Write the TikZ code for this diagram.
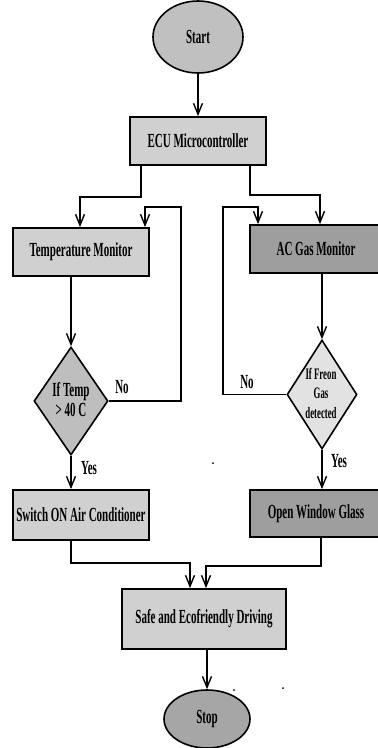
\documentclass[tikz,border=0pt]{standalone}
\usepackage{fontspec}
\setmainfont{Liberation Serif}[FakeStretch=0.55]
\usetikzlibrary{shapes.geometric,arrows.meta}
\definecolor{boxlight}{HTML}{D0D0D0}
\definecolor{boxdark}{HTML}{9E9E9E}
\definecolor{startfill}{HTML}{C0C0C0}
\definecolor{stopfill}{HTML}{A6A6A6}
\definecolor{diadark}{HTML}{BEBEBE}
\definecolor{dialight}{HTML}{E2E2E2}
\newcommand\fmain{\fontsize{20}{20}\selectfont\bfseries}
\newcommand\fsmall{\fontsize{16}{19.5}\selectfont\bfseries}
\begin{document}
\begin{tikzpicture}[x=1pt,y=-1pt,
  box/.style={draw, line width=1.8pt, fill=boxlight, minimum width=136pt, minimum height=48pt, inner sep=0pt, font=\fmain},
  term/.style={draw, ellipse, line width=1.6pt, inner sep=0pt, font=\fmain},
  dia/.style={draw, diamond, line width=1.6pt, inner sep=0pt},
  conn/.style={line width=1.4pt, -{Straight Barb[length=11pt,width=9pt]}},
  lbl/.style={font=\fmain, inner sep=0pt},
  txt/.style={font=\fmain, align=center, inner sep=0pt}]
\useasboundingbox (0,0) rectangle (378,748);
% nodes
\node[term, fill=startfill, minimum width=90pt, minimum height=72pt] (start) at (198,37) {Start};
\node[box] (ecu) at (198,141) {ECU Microcontroller};
\node[box] (temp) at (81,252) {Temperature Monitor};
\node[box, fill=boxdark, minimum width=132pt] (ac) at (316,249) {AC Gas Monitor};
\node[dia, fill=diadark, minimum width=74pt, minimum height=108pt] (d1) at (71,401) {};
\node[txt] (d1t) at (71,400) {If Temp\\> 40 C};
\node[dia, fill=dialight, minimum width=70pt, minimum height=109pt] (d2) at (322,394.5) {};
\node[txt, font=\fsmall] (d2t) at (321,393) {If Freon\\Gas\\detected};
\node[box, minimum height=50pt] (sw) at (81,515) {Switch ON Air Conditioner};
\node[box, fill=boxdark, minimum width=132pt, minimum height=47pt] (ow) at (316,513.5) {Open Window Glass};
\node[box, minimum width=164pt, minimum height=60pt] (safe) at (204,619) {Safe and Ecofriendly Driving};
\node[term, fill=stopfill, minimum width=86pt, minimum height=58pt] (stop) at (207,719) {Stop};
% labels
\node[lbl] (no1) at (122,387) {No};
\node[lbl] (yes1) at (89,468) {Yes};
\node[lbl] (no2) at (247,382) {No};
\node[lbl] (yes2) at (339,461) {Yes};
% helper coordinates
\coordinate (e1) at (141,197);
\coordinate (e2) at (80,197);
\coordinate (e3) at (250,195);
\coordinate (e4) at (320,195);
\coordinate (n1) at (181,207);
\coordinate (n2) at (145,207);
\coordinate (n3) at (223,207);
\coordinate (n4) at (258,207);
\coordinate (m1) at (71,563);
\coordinate (m2) at (190,563);
\coordinate (m3) at (321,566);
\coordinate (m4) at (206,566);
% connectors
\draw[conn] (start) -- (ecu);
\draw[conn] (ecu.south -| e1) -- (e1) -- (e2) -- (temp.north -| e2);
\draw[conn] (ecu.south -| e3) -- (e3) -- (e4) -- (ac.north -| e4);
\draw[conn] (temp.south -| d1.north) -- (d1.north);
\draw[conn] (ac.south -| d2.north) -- (d2.north);
\draw[conn] (d1.east) -| (n1) -- (n2) -- (temp.north -| n2);
\draw[conn] (d2.west) -| (n3) -- (n4) -- (ac.north -| n4);
\draw[conn] (d1.south) -- (sw.north -| d1.south);
\draw[conn] (d2.south) -- (ow.north -| d2.south);
\draw[conn] (sw.south -| m1) -- (m1) -- (m2) -- (safe.north -| m2);
\draw[conn] (ow.south -| m3) -- (m3) -- (m4) -- (safe.north -| m4);
\draw[conn] (safe.south -| stop.north) -- (stop.north);
% stray dots
\fill (213,463) circle (1pt);
\fill (234,690) circle (1pt);
\fill (283,688) circle (1pt);
\end{tikzpicture}
\end{document}
